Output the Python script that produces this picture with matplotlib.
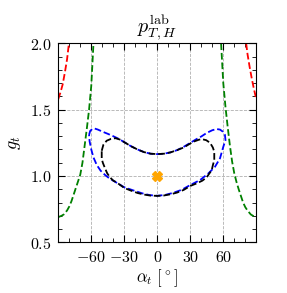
import matplotlib
matplotlib.use('Agg')
import matplotlib.pyplot as plt
from matplotlib.ticker import MultipleLocator

plt.rcParams['mathtext.fontset'] = 'cm'
plt.rcParams['font.family'] = 'serif'
plt.rcParams['font.serif'] = ['DejaVu Serif']

# red curves (left / right)
red_l_a = [-90, -88, -86, -84, -82, -80.3]
red_l_g = [1.58, 1.63, 1.69, 1.78, 1.88, 2.0]
red_r_a = [80.8, 82, 84, 86, 88, 90]
red_r_g = [2.0, 1.92, 1.82, 1.73, 1.65, 1.58]

# green curves (left / right)
grn_l_a = [-90, -87, -85, -82, -80, -78, -76, -74, -72, -70, -68, -66, -64, -62, -60, -58]
grn_l_g = [0.69, 0.70, 0.71, 0.74, 0.77, 0.81, 0.86, 0.91, 0.96, 1.01, 1.10, 1.23, 1.36, 1.50, 1.68, 2.0]
grn_r_a = [58, 60, 62, 64, 66, 68, 70, 72, 74, 76, 78, 80, 82, 85, 87, 90]
grn_r_g = [2.0, 1.70, 1.52, 1.37, 1.23, 1.11, 1.02, 0.955, 0.90, 0.85, 0.80, 0.765, 0.74, 0.71, 0.70, 0.69]

# blue closed contour
blue_a = [-62, -61, -59, -57, -54, -50, -45, -40, -35, -30, -24, -18, -12, -6, 0, 6, 12, 18,
          24, 30, 35, 40, 45, 50, 54, 57, 59.5, 61.5, 62, 60, 57, 52.5, 46.5, 39, 30, 22, 14, 7, 0,
          -7, -14, -22, -30, -38.5, -44, -47.5, -51.5, -55, -58, -60, -61.5, -62]
blue_g = [1.31, 1.34, 1.355, 1.358, 1.35, 1.335, 1.318, 1.30, 1.28, 1.255, 1.225, 1.20, 1.18,
          1.168, 1.165, 1.168, 1.178, 1.195, 1.22, 1.25, 1.275, 1.298, 1.325, 1.345, 1.354, 1.35,
          1.335, 1.31, 1.27, 1.22, 1.133, 1.07, 1.02, 0.97, 0.932, 0.895, 0.872, 0.857, 0.851,
          0.856, 0.87, 0.892, 0.915, 0.957, 0.985, 1.008, 1.04, 1.083, 1.14, 1.20, 1.26, 1.31]

# black closed contour
blk_a = [-50.5, -49, -46, -42, -38, -34, -30, -24, -18, -12, -6, 0, 6, 12, 18, 24, 30, 34, 38,
         41, 44.5, 48, 50.5, 51.8, 51.8, 50.5, 49.5, 47, 44.9, 41, 36, 30, 24, 18, 12, 6, 0,
         -6, -12, -18, -24, -30, -37, -40, -43, -45.5, -47.5, -49.5, -50.5, -50.5]
blk_g = [1.19, 1.235, 1.266, 1.28, 1.285, 1.275, 1.255, 1.225, 1.20, 1.18, 1.168, 1.165, 1.168,
         1.178, 1.195, 1.215, 1.245, 1.262, 1.274, 1.277, 1.27, 1.25, 1.215, 1.183, 1.12, 1.08,
         1.045, 1.015, 0.99, 0.965, 0.945, 0.925, 0.895, 0.875, 0.862, 0.853, 0.85, 0.852, 0.86,
         0.872, 0.89, 0.91, 0.952, 0.965, 0.99, 1.02, 1.058, 1.10, 1.13, 1.19]

sm_a = [0]
sm_g = [1.0]

fig = plt.figure(figsize=(2.87, 2.93), dpi=100)
ax = fig.add_axes([0.203, 0.173, 0.690, 0.679])

lw = 1.3
ax.plot(red_l_a, red_l_g, color='red', ls='--', lw=lw)
ax.plot(red_r_a, red_r_g, color='red', ls='--', lw=lw)
ax.plot(grn_l_a, grn_l_g, color='green', ls='--', lw=lw)
ax.plot(grn_r_a, grn_r_g, color='green', ls='--', lw=lw)
ax.plot(blue_a, blue_g, color='blue', ls='--', lw=lw)
ax.plot(blk_a, blk_g, color='black', ls='--', lw=lw)
ax.plot(sm_a, sm_g, marker='X', color='orange', ms=7, ls='none', zorder=5)

ax.set_xlim(-90, 90)
ax.set_ylim(0.5, 2.0)
ax.set_xticks([-60, -30, 0, 30, 60])
ax.set_xticklabels([r'$-60$', r'$-30$', r'$0$', r'$30$', r'$60$'])
ax.set_yticks([0.5, 1.0, 1.5, 2.0])
ax.set_yticklabels([r'$0.5$', r'$1.0$', r'$1.5$', r'$2.0$'])
ax.xaxis.set_minor_locator(MultipleLocator(10))
ax.yaxis.set_minor_locator(MultipleLocator(0.1))
ax.tick_params(which='both', direction='in', top=True, right=True, labelsize=11.5, pad=5)
ax.tick_params(which='major', length=5, width=0.8)
ax.tick_params(which='minor', length=3, width=0.6)
ax.grid(True, which='major', ls='--', color='#b0b0b0', lw=0.6)

ax.set_xlabel(r'$\alpha_t\ [^\circ]$', fontsize=12, labelpad=1)
ax.set_ylabel(r'$g_t$', fontsize=13, labelpad=5)
ax.set_title(r'$p_{T,H}^{\rm lab}$', fontsize=14.5, pad=4)

fig.savefig('out.png', dpi=100)
